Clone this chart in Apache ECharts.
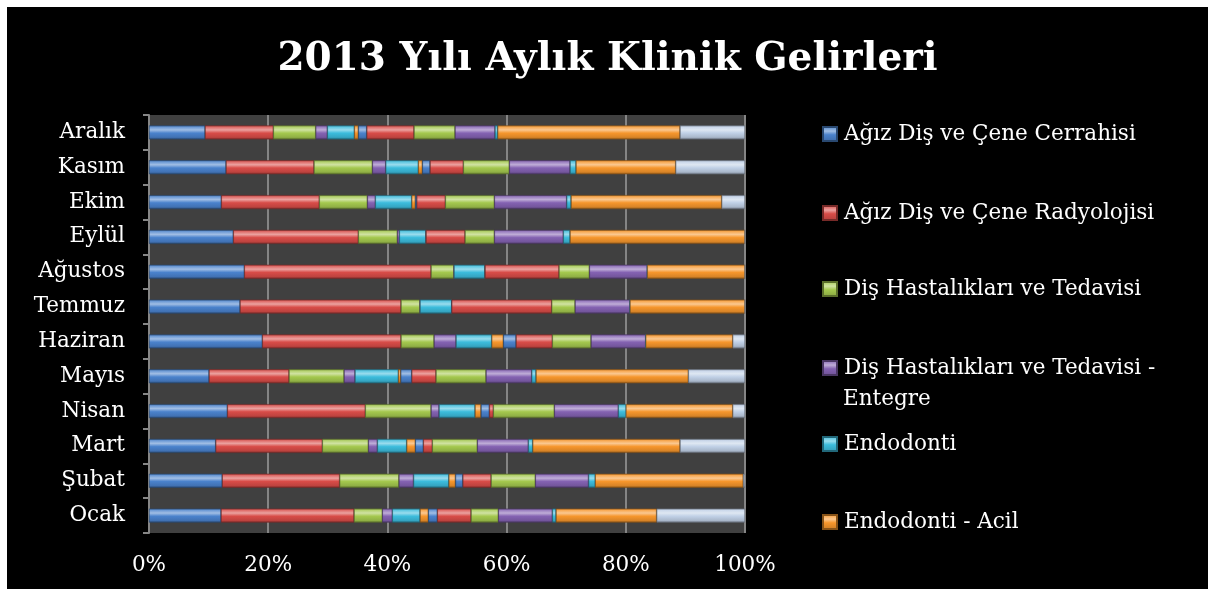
<!DOCTYPE html>
<html>
<head>
<meta charset="utf-8">
<script src="https://cdn.jsdelivr.net/npm/echarts@6/dist/echarts.min.js"></script>
<style>
html,body{margin:0;padding:0;background:#ffffff;}
#wrap{position:relative;width:1215px;height:596px;background:#ffffff;}
#bg{position:absolute;left:7px;top:7px;width:1201px;height:582px;background:#000000;}
#c{position:absolute;left:0;top:0;width:1215px;height:596px;}
</style>
</head>
<body>
<div id="wrap"><div id="bg"></div><div id="c"></div></div>
<script>
// Categories (bottom to top)
const months = ['Ocak','Şubat','Mart','Nisan','Mayıs','Haziran','Temmuz','Ağustos','Eylül','Ekim','Kasım','Aralık'];
const xTickLabels = ['0%','20%','40%','60%','80%','100%'];

// Series names (only the first six are visible in the legend of the reference)
const seriesNames = [
  'Ağız Diş ve Çene Cerrahisi',
  'Ağız Diş ve Çene Radyolojisi',
  'Diş Hastalıkları ve Tedavisi',
  'Diş Hastalıkları ve Tedavisi - Entegre',
  'Endodonti',
  'Endodonti - Acil',
  'Seri 7','Seri 8','Seri 9','Seri 10','Seri 11','Seri 12','Seri 13'
];

// Values (share of month), Ocak → Aralık
const s1  = [12.08, 12.3, 11.19, 13.14, 10.07, 19.01, 15.27, 15.99, 14.14, 12.13, 12.92, 9.4];
const s2  = [22.32, 19.75, 17.89, 23.15, 13.42, 23.27, 27.01, 31.33, 20.98, 16.44, 14.76, 11.46];
const s3  = [4.74, 9.95, 7.72, 11.03, 9.23, 5.54, 3.19, 3.85, 6.54, 8.06, 9.79, 7.11];
const s4  = [1.68, 2.46, 1.51, 1.34, 1.84, 3.69, 0, 0, 0.34, 1.34, 2.25, 1.95];
const s5  = [4.65, 5.93, 4.93, 6.04, 7.27, 5.99, 5.32, 5.21, 4.48, 6.11, 5.46, 4.53];
const s6  = [1.39, 1.12, 1.44, 1.0, 0.4, 1.95, 0, 0, 0, 0.6, 0.68, 0.67];
const s7  = [1.51, 1.23, 1.34, 1.4, 1.85, 2.13, 0, 0, 0, 0.24, 1.29, 1.41];
const s8  = [5.66, 4.76, 1.51, 0.67, 4.07, 6.09, 16.78, 12.41, 6.54, 4.8, 5.59, 7.93];
const s9  = [4.58, 7.43, 7.55, 10.23, 8.39, 6.49, 3.91, 5.09, 4.92, 8.22, 7.71, 6.88];
const s10 = [9.06, 8.95, 8.56, 10.74, 7.67, 9.18, 9.22, 9.72, 11.57, 12.14, 10.19, 6.71];
const s11 = [0.62, 1.12, 0.74, 1.29, 0.72, 0, 0, 0, 1.13, 0.73, 1.0, 0.45];
const s12 = [16.89, 24.88, 24.71, 17.91, 25.56, 14.6, 19.3, 16.4, 29.36, 25.28, 16.73, 30.59];
const s13 = [14.82, 0.3, 10.91, 2.06, 9.51, 2.06, 0, 0, 0, 3.91, 11.63, 10.91];

const allSeries = [s1,s2,s3,s4,s5,s6,s7,s8,s9,s10,s11,s12,s13];

const baseColors = ['#4a82cc','#d84c48','#a4c84e','#8462b2','#3cbcdc','#f6962c',
                    '#4a82cc','#d84c48','#a4c84e','#8462b2','#3cbcdc','#f6962c','#c0d0e6'];

function mix(hex, target, t){
  const h = hex.replace('#','');
  const r = parseInt(h.substr(0,2),16), g = parseInt(h.substr(2,2),16), b = parseInt(h.substr(4,2),16);
  const tr = target ? 255 : 0;
  const f = v => Math.round(v + (tr - v) * t);
  return 'rgb(' + f(r) + ',' + f(g) + ',' + f(b) + ')';
}
function grad(hex){
  return new echarts.graphic.LinearGradient(0,0,0,1,[
    {offset:0, color: mix(hex,false,0.25)},
    {offset:0.12, color: mix(hex,true,0.18)},
    {offset:0.32, color: mix(hex,true,0.48)},
    {offset:0.55, color: hex},
    {offset:0.85, color: mix(hex,false,0.12)},
    {offset:1, color: mix(hex,false,0.45)}
  ]);
}

// row totals for 100% stacking
const totals = months.map((m,i)=>allSeries.reduce((a,s)=>a+s[i],0));

const FONT = 'DejaVu Serif';
const FS = 21.5;

const series = allSeries.map((arr,k)=>({
  name: seriesNames[k],
  type: 'bar',
  stack: 'total',
  barWidth: 14,
  data: arr.map((v,i)=> +(v / totals[i] * 100).toFixed(3)),
  itemStyle: {
    color: grad(baseColors[k]),
    borderColor: mix(baseColors[k],false,0.45),
    borderWidth: 0.6
  },
  emphasis: {disabled: true}
}));

const legendCenters = [133, 212, 288, 367, 443, 521];
const legends = legendCenters.map((cy,k)=>({
  data: [{name: seriesNames[k], itemStyle: {color: grad(baseColors[k])}}],
  left: 822,
  top: cy - 10,
  padding: 0,
  orient: 'vertical',
  selectedMode: false,
  icon: 'rect',
  itemWidth: 14,
  itemHeight: 14,
  itemGap: 0,
  formatter: k === 3 ? 'Diş Hastalıkları ve Tedavisi -' : undefined,
  textStyle: {color:'#ffffff', fontFamily: FONT, fontSize: FS, padding:[0,0,0,2]}
}));

const chart = echarts.init(document.getElementById('c'), null, {renderer:'canvas'});
chart.setOption({
  backgroundColor: 'transparent',
  animation: false,
  title: {
    text: '2013 Yılı Aylık Klinik Gelirleri',
    left: 'center',
    top: 35,
    textStyle: {color:'#ffffff', fontFamily: FONT, fontWeight:'bold', fontSize: 39}
  },
  legend: legends,
  graphic: [{
    type: 'text',
    left: 843,
    top: 388,
    style: {text: 'Entegre', fill:'#ffffff', font: FS + 'px "DejaVu Serif"'}
  }],
  grid: {
    left: 149, right: 470, top: 115, bottom: 63,
    show: true, backgroundColor: '#404040', borderWidth: 0
  },
  xAxis: {
    type: 'value',
    min: 0, max: 100, interval: 20,
    axisLine: {show:false},
    axisTick: {show:false},
    splitLine: {show:true, lineStyle:{color:'#858585', width:2}},
    axisLabel: {
      color:'#ffffff', fontFamily: FONT, fontSize: FS, margin: 21,
      formatter: (v)=> xTickLabels[Math.round(v/20)]
    }
  },
  yAxis: {
    type: 'category',
    data: months,
    axisLine: {show:true, lineStyle:{color:'#868686', width:2}},
    axisTick: {show:true, length:6, lineStyle:{color:'#868686', width:2}},
    splitLine: {show:false},
    axisLabel: {color:'#ffffff', fontFamily: FONT, fontSize: FS, margin: 24}
  },
  series: series
});
</script>
</body>
</html>
